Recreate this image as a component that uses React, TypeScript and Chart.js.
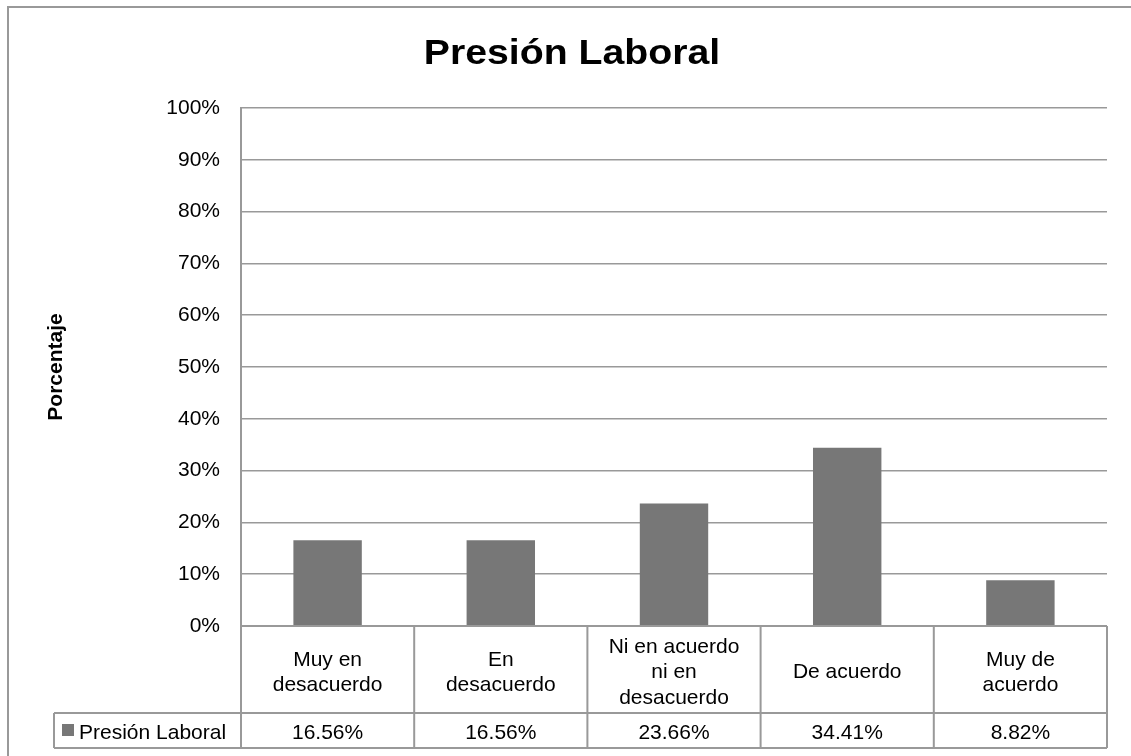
import React, { useEffect, useRef } from "react";
import { Chart, registerables } from "chart.js";

Chart.register(...registerables);

const chartTitle = "Presión Laboral";
const seriesName = "Presión Laboral";
const axisTitle = "Porcentaje";
const categories: string[][] = [
  ["Muy en", "desacuerdo"],
  ["En", "desacuerdo"],
  ["Ni en acuerdo", "ni en", "desacuerdo"],
  ["De acuerdo"],
  ["Muy de", "acuerdo"],
];
const values = [16.56, 16.56, 23.66, 34.41, 8.82];
const valueLabels = ["16.56%", "16.56%", "23.66%", "34.41%", "8.82%"];
const yTickLabels = ["0%", "10%", "20%", "30%", "40%", "50%", "60%", "70%", "80%", "90%", "100%"];

const FONT = "'Liberation Sans', Arial, sans-serif";
const BAR = "#777777";
const LINE = "#999999";

const tablePlugin = {
  id: "tablePlugin",
  beforeDraw(chart: any) {
    const ctx = chart.ctx;
    ctx.save();
    ctx.fillStyle = "#ffffff";
    ctx.fillRect(0, 0, chart.width, chart.height);
    ctx.strokeStyle = LINE;
    ctx.lineWidth = 2;
    ctx.strokeRect(8, 7, chart.width + 50, chart.height + 50);
    ctx.restore();
  },
  afterDraw(chart: any) {
    const ctx = chart.ctx;
    const area = chart.chartArea;
    const x = chart.scales.x;
    const n = categories.length;
    const colW = (area.right - area.left) / n;
    const catTop = area.bottom;
    const catBottom = catTop + 87;
    const valBottom = catBottom + 35;
    const legendLeft = 54;

    ctx.save();
    ctx.strokeStyle = LINE;
    ctx.lineWidth = 2;
    ctx.beginPath();
    // horizontal lines
    ctx.moveTo(area.left, catTop);
    ctx.lineTo(area.right, catTop);
    ctx.moveTo(legendLeft, catBottom);
    ctx.lineTo(area.right, catBottom);
    ctx.moveTo(legendLeft, valBottom);
    ctx.lineTo(area.right, valBottom);
    // vertical lines
    ctx.moveTo(area.left, area.top);
    ctx.lineTo(area.left, valBottom);
    for (let i = 1; i <= n; i++) {
      const bx = area.left + colW * i;
      ctx.moveTo(bx, catTop);
      ctx.lineTo(bx, valBottom);
    }
    ctx.moveTo(legendLeft, catBottom);
    ctx.lineTo(legendLeft, valBottom);
    ctx.stroke();

    // category labels & values
    ctx.fillStyle = "#000000";
    ctx.font = `21px ${FONT}`;
    ctx.textAlign = "center";
    ctx.textBaseline = "middle";
    const lh = 25.5;
    const catMid = (catTop + catBottom) / 2 + 3;
    const valMid = (catBottom + valBottom) / 2 + 2.5;
    categories.forEach((lines, i) => {
      const cx = x.getPixelForValue(i);
      const start = catMid - ((lines.length - 1) * lh) / 2;
      lines.forEach((t, j) => ctx.fillText(t, cx, start + j * lh));
      ctx.fillText(valueLabels[i], cx, valMid);
    });

    // legend key
    ctx.fillStyle = BAR;
    ctx.fillRect(62, catBottom + 11, 12, 12);
    ctx.fillStyle = "#000000";
    ctx.textAlign = "left";
    ctx.fillText(seriesName, 79, valMid);

    // title
    ctx.font = `bold 35px ${FONT}`;
    ctx.textAlign = "center";
    ctx.textBaseline = "middle";
    ctx.translate(572, 54);
    ctx.scale(1.12, 1);
    ctx.fillText(chartTitle, 0, 0);
    ctx.restore();
  },
};

export default function App() {
  const ref = useRef<HTMLCanvasElement>(null);
  useEffect(() => {
    if (!ref.current) return;
    const chart = new Chart(ref.current, {
      type: "bar",
      data: {
        labels: categories,
        datasets: [
          {
            label: seriesName,
            data: values,
            backgroundColor: BAR,
            borderWidth: 0,
            barPercentage: 0.395,
            categoryPercentage: 1,
          },
        ],
      },
      options: {
        animation: false,
        responsive: false,
        devicePixelRatio: 1,
        layout: { padding: { left: 0, right: 24, top: 108, bottom: 130 } },
        plugins: {
          legend: { display: false },
          tooltip: { enabled: false },
          title: { display: false },
        },
        scales: {
          x: { display: false },
          y: {
            min: 0,
            max: 100,
            ticks: {
              stepSize: 10,
              color: "#000000",
              padding: 21,
              font: { family: FONT, size: 21 },
              callback: (_v: any, i: number) => yTickLabels[i],
            },
            grid: { color: LINE, lineWidth: 1.5, drawTicks: false },
            border: { color: LINE, width: 2 },
            title: {
              display: true,
              text: axisTitle,
              color: "#000000",
              font: { family: FONT, size: 21, weight: "bold" },
              padding: { top: 44, bottom: 0 },
            },
            afterFit: (s: any) => {
              s.width = 241;
            },
          },
        },
      },
      plugins: [tablePlugin],
    });
    return () => chart.destroy();
  }, []);
  return (
    <div style={{ position: "absolute", left: 0, top: 0, width: 1131, height: 756 }}>
      <canvas ref={ref} width={1131} height={756} style={{ display: "block" }} />
    </div>
  );
}
